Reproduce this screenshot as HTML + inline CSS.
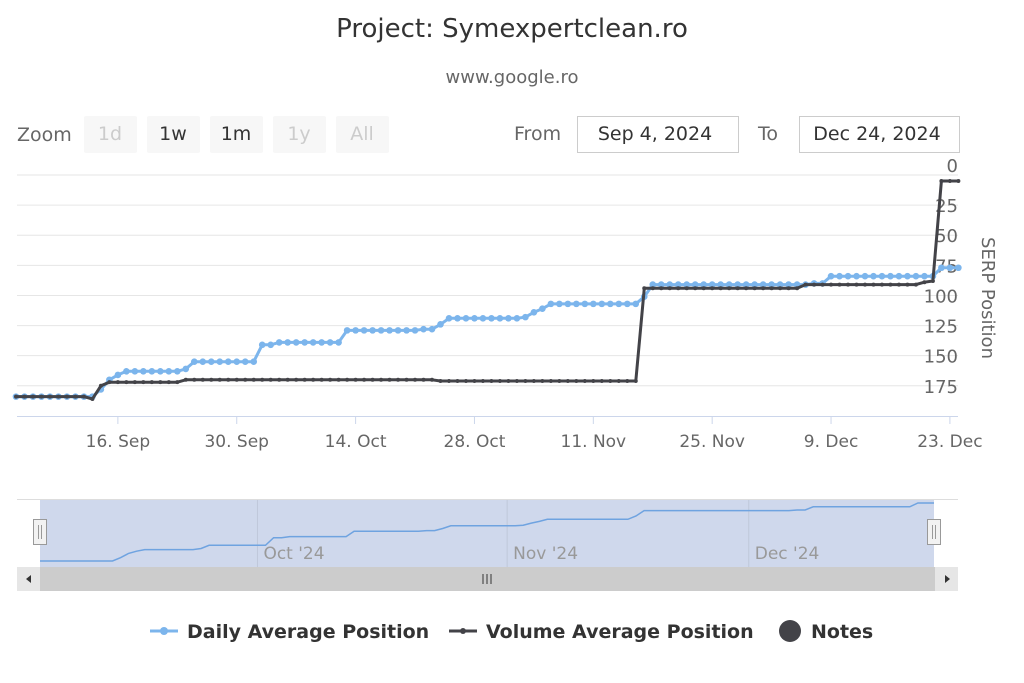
<!DOCTYPE html>
<html><head><meta charset="utf-8"><style>
body{margin:0;background:#fff;width:1024px;height:683px;overflow:hidden}
svg{display:block;font-family:"DejaVu Sans","Liberation Sans",sans-serif}
</style></head><body>
<svg id="s" width="1024" height="683" xmlns="http://www.w3.org/2000/svg">
<text x="512" y="37" text-anchor="middle" font-size="26" fill="#333">Project: Symexpertclean.ro</text>
<text x="512" y="83" text-anchor="middle" font-size="18" fill="#666">www.google.ro</text>
<text x="17" y="141" font-size="19" fill="#666">Zoom</text>
<g font-size="19" text-anchor="middle">
<rect x="84" y="116" width="53" height="37" rx="2" fill="#f7f7f7"/><text x="110" y="140" fill="#ccc">1d</text>
<rect x="147" y="116" width="53" height="37" rx="2" fill="#f7f7f7"/><text x="173" y="140" fill="#333">1w</text>
<rect x="210" y="116" width="53" height="37" rx="2" fill="#f7f7f7"/><text x="236" y="140" fill="#333">1m</text>
<rect x="273" y="116" width="53" height="37" rx="2" fill="#f7f7f7"/><text x="299" y="140" fill="#ccc">1y</text>
<rect x="336" y="116" width="53" height="37" rx="2" fill="#f7f7f7"/><text x="362" y="140" fill="#ccc">All</text>
</g>
<text x="514" y="140" font-size="19" fill="#666">From</text>
<rect x="577.5" y="116.5" width="161" height="36" fill="#fff" stroke="#ccc"/>
<text x="655" y="140" font-size="19" fill="#333" text-anchor="middle">Sep 4, 2024</text>
<text x="758" y="140" font-size="19" fill="#666">To</text>
<rect x="799.5" y="116.5" width="160" height="36" fill="#fff" stroke="#ccc"/>
<text x="877" y="140" font-size="19" fill="#333" text-anchor="middle">Dec 24, 2024</text>
<g id="grid"></g>
<g id="series"></g>
<text transform="translate(982,298) rotate(90)" text-anchor="middle" font-size="18" fill="#666">SERP Position</text>
<g id="nav"></g>
<g font-size="19" font-weight="bold" fill="#333">
<line x1="150" y1="631" x2="178" y2="631" stroke="#7cb5ec" stroke-width="3"/><circle cx="164" cy="631" r="4" fill="#7cb5ec"/>
<text x="187" y="638">Daily Average Position</text>
<line x1="449" y1="631" x2="477" y2="631" stroke="#434348" stroke-width="3"/><circle cx="463" cy="631" r="3" fill="#434348"/>
<text x="486" y="638">Volume Average Position</text>
<circle cx="790" cy="631" r="11" fill="#434348"/>
<text x="811" y="638">Notes</text>
</g>
</svg>
<script>
var NS="http://www.w3.org/2000/svg";
function el(p,t,a,txt){var e=document.createElementNS(NS,t);for(var k in a)e.setAttribute(k,a[k]);if(txt!=null)e.textContent=txt;document.getElementById(p).appendChild(e);return e;}
var X0=16,PX=8.49;function X(d){return X0+d*PX}function Y(v){return 175+v*1.2045}
for(var i=0;i<8;i++){var y=Y(i*25);el("grid","line",{x1:17,x2:958,y1:y,y2:y,stroke:"#e6e6e6","stroke-width":1});
el("grid","text",{x:958,y:y+(i==0?-3:7),"text-anchor":"end","font-size":"18",fill:"#666"},String(i*25));}
el("grid","line",{x1:17,x2:958,y1:416.5,y2:416.5,stroke:"#ccd6eb"});
var ticks=[[12,"16. Sep"],[26,"30. Sep"],[40,"14. Oct"],[54,"28. Oct"],[68,"11. Nov"],[82,"25. Nov"],[96,"9. Dec"],[110,"23. Dec"]];
ticks.forEach(function(t){var x=X(t[0]);el("grid","line",{x1:x,x2:x,y1:416,y2:424,stroke:"#ccd6eb"});el("grid","text",{x:x,y:447,"text-anchor":"middle","font-size":"17",fill:"#666"},t[1]);});
function build(segs){var a=[];segs.forEach(function(s){for(var d=s[0];d<=s[1];d++)a[d]=s[2];});return a;}
var blue=build([[0,9,184],[10,10,178],[11,11,170],[12,12,166],[13,19,163],[20,20,161],[21,28,155],[29,30,141],[31,38,139],[39,47,129],[48,49,128],[50,50,124],[51,59,119],[60,60,118],[61,61,114],[62,62,111],[63,73,107],[74,74,101],[75,93,91],[94,95,90],[96,108,84],[109,111,77]]);
var blk=build([[0,8,184],[9,9,186],[10,10,175],[11,19,172],[20,49,170],[50,73,171],[74,92,94],[93,106,91],[107,107,89],[108,108,88],[109,111,5]]);
function path(arr,col,w,r){var p="";arr.forEach(function(v,d){p+=(d?"L":"M")+X(d).toFixed(1)+" "+Y(v).toFixed(1);});
el("series","path",{d:p,fill:"none",stroke:col,"stroke-width":w,"stroke-linejoin":"round"});
arr.forEach(function(v,d){el("series","circle",{cx:X(d),cy:Y(v),r:r,fill:col});});}
path(blue,"#7cb5ec",3,3.3);path(blk,"#434348",3,2);
el("nav","line",{x1:17,x2:958,y1:499.5,y2:499.5,stroke:"#ddd"});
el("nav","rect",{x:40,y:500,width:894,height:67,fill:"#ccd6eb",opacity:"0.95"});
function NX(d){return 40+d*894/111}function NY(v){return 503+(v-77)*0.542}
[[27,"Oct '24"],[58,"Nov '24"],[88,"Dec '24"]].forEach(function(m){var x=NX(m[0]);el("nav","line",{x1:x,x2:x,y1:500,y2:567,stroke:"#bfc8da"});el("nav","text",{x:x+6,y:559,"font-size":"17",fill:"#999"},m[1]);});
var np="";blue.forEach(function(v,d){np+=(d?"L":"M")+NX(d).toFixed(1)+" "+NY(v).toFixed(1);});
el("nav","path",{d:np,fill:"none",stroke:"#6fa3e0","stroke-width":1.5});
[40,934].forEach(function(x){el("nav","rect",{x:x-6.5,y:519.5,width:13,height:25,fill:"#f2f2f2",stroke:"#999"});el("nav","line",{x1:x-1.5,x2:x-1.5,y1:525,y2:539,stroke:"#999"});el("nav","line",{x1:x+1.5,x2:x+1.5,y1:525,y2:539,stroke:"#999"});});
el("nav","rect",{x:17,y:567,width:941,height:24,fill:"#cccccc"});
el("nav","rect",{x:17,y:567,width:23,height:24,fill:"#e6e6e6"});
el("nav","rect",{x:935,y:567,width:23,height:24,fill:"#e6e6e6"});
el("nav","path",{d:"M31 575 L26 579 L31 583Z",fill:"#333"});
el("nav","path",{d:"M945 575 L950 579 L945 583Z",fill:"#333"});
[483,487,491].forEach(function(x){el("nav","line",{x1:x,x2:x,y1:574,y2:584,stroke:"#333"});});
</script>
</body></html>
